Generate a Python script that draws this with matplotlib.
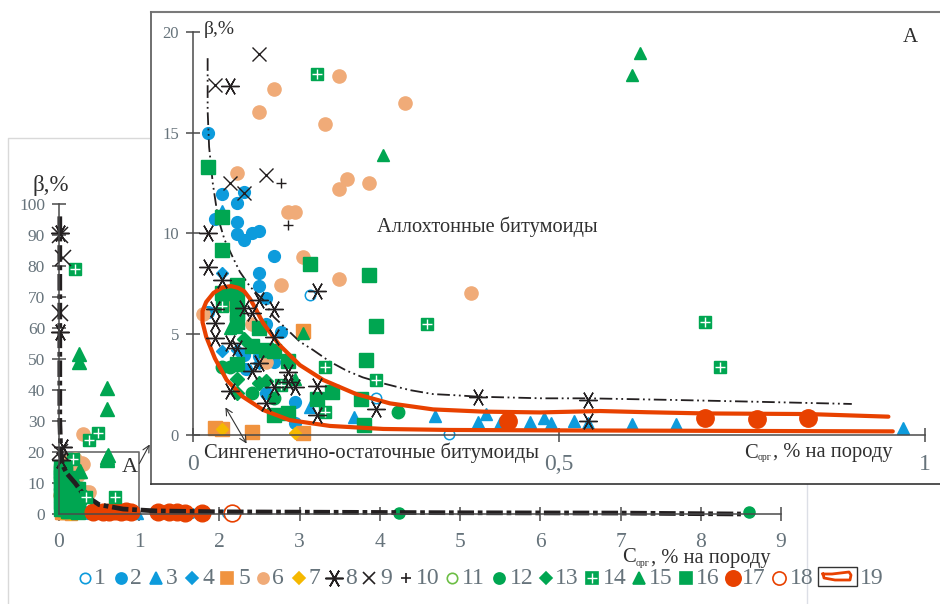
import matplotlib
matplotlib.use("Agg")
import matplotlib.pyplot as plt
from matplotlib.patches import Rectangle

plt.rcParams['font.family'] = ['Liberation Serif', 'DejaVu Serif']

BLUE = '#0d9bdc'
ORANGE = '#f0933f'
TAN = '#f0ab78'
YELLOW = '#f5b800'
GREEN = '#00a651'
RED = '#e84100'
LGREEN = '#6cbe45'
BLACK = '#231f20'
GREY = '#66737b'

# серии (Сорг, бета)
x1 = [0.16, 0.25, 0.35, 2.1, 1.65]
y1 = [6.95, 1.82, 0.03, 0.3, 0.4]
x2 = [0.02, 0.04, 0.07, 0.06, 0.03, 0.06, 0.06, 0.07, 0.08, 0.09, 0.11, 0.09, 0.09, 0.1, 0.02, 0.1, 0.12, 0.07,
      0.11, 0.073, 0.1, 0.14, 0.14, 0.09]
y2 = [15.0, 11.94, 12.04, 11.5, 10.7, 10.57, 9.97, 9.67, 10.0, 10.14, 8.88, 8.02, 7.41, 6.78, 6.1, 5.5, 5.13, 3.97,
      3.64, 3.3, 2.1, 1.65, 0.58, 3.9]
x3 = [0.04, 0.16, 0.22, 0.33, 0.39, 0.4, 0.42, 0.46, 0.479, 0.489, 0.52, 0.54, 0.6, 0.66, 0.97]
y3 = [11.1, 1.4, 0.9, 0.95, 0.66, 1.04, 0.58, 0.63, 0.83, 0.61, 0.71, 0.58, 0.53, 0.53, 0.33]
x4 = [0.04, 0.04, 0.09, 0.06]
y4 = [8.05, 4.18, 3.55, 4.2]
x5 = [0.03, 0.039, 0.08, 0.15, 0.15]
y5 = [0.36, 0.3, 0.17, 0.08, 5.16]
x6 = [0.2, 0.11, 0.289, 0.09, 0.18, 0.06, 0.21, 0.24, 0.2, 0.13, 0.14, 0.15, 0.2, 0.12, 0.38, 0.1, 0.08, 0.05, 0.014]
y6 = [17.8, 17.17, 16.5, 16.05, 15.43, 13.0, 12.7, 12.5, 12.2, 11.08, 11.08, 8.85, 7.76, 7.43, 7.03, 3.64, 5.5, 6.5, 6.0]
x7 = [0.04, 0.14]
y7 = [0.28, 0.12]
x8 = [0.05, 0.02, 0.02, 0.17, 0.04, 0.09, 0.11, 0.03, 0.03, 0.03, 0.05, 0.06, 0.07, 0.08, 0.11, 0.09, 0.08, 0.13,
      0.13, 0.14, 0.11, 0.17, 0.05, 0.1, 0.17, 0.25, 0.39, 0.54, 0.54]
y8 = [17.3, 10.0, 8.35, 7.16, 7.7, 6.7, 6.24, 6.24, 5.57, 4.8, 4.55, 4.3, 6.3, 6.07, 4.88, 3.56, 3.2, 3.14,
      2.65, 2.4, 2.37, 2.43, 2.2, 1.57, 1.0, 1.27, 1.87, 1.74, 0.7]
x9 = [0.09, 0.03, 0.05, 0.1, 0.07]
y9 = [18.9, 17.37, 12.5, 12.9, 12.0]
x10 = [0.12, 0.13]
y10 = [12.52, 10.42]
x12 = [0.28, 0.11, 0.08, 0.04, 0.05]
y12 = [1.16, 1.85, 2.07, 3.36, 3.36]
x13 = [0.07, 0.06, 0.06, 0.09, 0.1]
y13 = [4.75, 2.1, 2.8, 2.6, 2.7]
x14 = [0.17, 0.04, 0.18, 0.25, 0.32, 0.12, 0.18, 0.7, 0.72]
y14 = [17.9, 6.4, 3.39, 2.73, 5.5, 2.5, 1.16, 5.6, 3.39]
x15 = [0.61, 0.6, 0.26, 0.15, 0.05, 0.06, 0.14]
y15 = [18.94, 17.87, 13.9, 5.05, 5.3, 5.38, 2.76]
x16 = [0.02, 0.04, 0.04, 0.16, 0.24, 0.06, 0.04, 0.05, 0.06, 0.06, 0.06, 0.09, 0.25, 0.08, 0.1, 0.11, 0.13, 0.236,
       0.06, 0.17, 0.19, 0.23, 0.11, 0.13, 0.233]
y16 = [13.3, 10.83, 9.2, 8.5, 7.92, 7.44, 7.03, 7.03, 6.7, 6.04, 5.62, 5.29, 5.4, 4.42, 4.2, 4.17, 3.67, 3.72,
       3.52, 1.77, 2.12, 1.77, 1.0, 1.07, 0.5]
x17 = [0.43, 0.77, 0.84, 0.7]
y17 = [0.7, 0.78, 0.83, 0.83]

# точки, которые видны только на общем графике
main_x6 = [0.3, 0.3, 0.34, 0.2]
main_y6 = [25.7, 16.0, 7.0, 14.0]
main_x8 = [0.01, 0.01, 0.05, 0.02]
main_y8 = [90.6, 58.7, 21.6, 17.5]
main_x9 = [0.01, 0.05, 0.01, 0.01]
main_y9 = [90.0, 82.6, 65.0, 20.0]
main_x12 = [4.24, 8.6]
main_y12 = [0.3, 0.7]
main_x14 = [0.2, 0.48, 0.38, 0.17, 0.7, 0.34]
main_y14 = [79.0, 26.0, 24.0, 17.7, 5.6, 5.5]
main_x15 = [0.25, 0.25, 0.6, 0.6, 0.6, 0.6, 0.25]
main_y15 = [51.6, 49.0, 40.6, 34.0, 18.4, 17.5, 14.0]
main_x16 = [0.02, 0.02, 0.02, 0.02, 0.02, 0.02, 0.02, 0.08, 0.08, 0.08, 0.08, 0.08, 0.15, 0.15, 0.15, 0.15, 0.21, 0.21,
            0.02, 0.08, 0.15, 0.21, 0.21]
main_y16 = [14.0, 12.0, 10.0, 8.0, 6.0, 4.0, 1.5, 13.0, 10.0, 7.0, 4.0, 1.5, 9.0, 6.0, 3.5, 1.5, 8.0, 1.5,
            15.0, 15.0, 11.5, 5.0, 3.0]
main_x17 = [1.24, 1.37, 1.47, 1.57, 1.78, 0.55, 0.62, 0.9]
main_y17 = [0.5, 0.5, 0.5, 0.4, 0.4, 0.6, 0.7, 0.6]
main_x18 = [2.16, 1.65]
main_y18 = [0.3, 0.4]

# линии
trend_x = [0.02, 0.02, 0.022, 0.027, 0.034, 0.043, 0.055, 0.064, 0.078, 0.096, 0.11, 0.127, 0.146, 0.164, 0.187,
           0.21, 0.232, 0.26, 0.296, 0.328, 0.36, 0.39, 0.478, 0.54, 0.656, 0.77, 0.9]
trend_y = [18.7, 16.1, 14.3, 12.5, 10.8, 9.7, 8.77, 8.1, 7.36, 6.7, 5.87, 5.29, 4.63, 4.22, 3.64,
           3.19, 2.86, 2.56, 2.23, 2.03, 1.97, 1.9, 1.82, 1.82, 1.74, 1.65, 1.54]
main_trend_x = [0.01, 0.01, 0.01, 0.02, 0.04, 0.1, 0.2, 0.3, 0.5, 0.8, 1.2, 2.0, 3.0, 5.0, 7.0, 8.5]
main_trend_y = [96, 50, 30, 22, 16, 13, 10, 6.5, 3, 1.6, 1.0, 0.7, 0.6, 0.4, 0.3, 0.0]
area_x = [0.95, 0.84, 0.7, 0.62, 0.556, 0.474, 0.396, 0.328, 0.269, 0.223, 0.178, 0.146, 0.118, 0.096, 0.084, 0.078, 0.07,
          0.062, 0.052, 0.04, 0.028, 0.018, 0.013, 0.013, 0.018, 0.03, 0.046, 0.068, 0.096, 0.132, 0.187, 0.26, 0.35, 0.487, 0.956]
area_y = [0.91, 1.04, 1.07, 1.13, 1.19, 1.12, 1.16, 1.27, 1.57, 2.03, 2.73, 3.47, 4.47, 5.54, 6.37, 6.75, 7.13,
          7.3, 7.39, 7.32, 7.05, 6.6, 6.15, 5.6, 4.88, 3.8, 2.73, 1.9, 1.24, 0.74, 0.45, 0.3, 0.25, 0.23, 0.18]

main_xticks = [0, 1, 2, 3, 4, 5, 6, 7, 8, 9]
main_yticks = [0, 10, 20, 30, 40, 50, 60, 70, 80, 90, 100]
inset_xticks = [0, 0.5, 1]
inset_xlabels = ['0', '0,5', '1']
inset_yticks = [0, 5, 10, 15, 20]
legend_labels = ['1', '2', '3', '4', '5', '6', '7', '8', '9', '10', '11', '12', '13', '14', '15', '16', '17', '18']
legend_marker_px = [85, 121, 156, 192, 227, 263, 299, 334, 369, 406, 452, 499, 546, 592, 639, 686, 733, 779]
legend_label_px = [100, 136, 172, 208, 244, 278, 314, 351, 386, 428, 473, 522, 567, 615, 661, 708, 754, 802]

STAR = (6, 2, 90)


def pts(ax, x, y, marker, color, ms, **kw):
    ax.plot(x, y, ls='none', marker=marker, color=color, ms=ms, clip_on=False, **kw)


def crossed(ax, x, y, ms):
    ax.plot(x, y, ls='none', marker='s', color=GREEN, ms=ms, clip_on=False)
    ax.plot(x, y, ls='none', marker='+', color='white', ms=ms * 0.8, mew=1.0, clip_on=False)


def style(ax, ytick_size, xtick_size, ypad):
    for s in ['top', 'right']:
        ax.spines[s].set_visible(False)
    for s in ['left', 'bottom']:
        ax.spines[s].set_color('#4a4a4a')
        ax.spines[s].set_linewidth(1.1)
    ax.tick_params(axis='y', direction='inout', length=10, width=1.1, color='#4a4a4a', labelcolor=GREY,
                   labelsize=ytick_size, pad=ypad)
    ax.tick_params(axis='x', direction='inout', length=10, width=1.1, color='#4a4a4a', labelcolor=GREY,
                   labelsize=xtick_size, pad=9)


W, H = 940, 604
fig = plt.figure(figsize=(W / 100, H / 100), dpi=100)

# фон с внешней рамкой
bg = fig.add_axes([0, 0, 1, 1], zorder=0)
bg.set_xlim(0, W)
bg.set_ylim(H, 0)
bg.axis('off')
bg.plot([8, 8, 160], [H, 138, 138], color='#d9d9d9', lw=1.0)
bg.plot([807, 807], [484, H], color='#dcdfe6', lw=1.0)

# общий график
ax = fig.add_axes([59 / W, 1 - 514 / H, (781 - 59) / W, (514 - 204) / H], zorder=1)
ax.patch.set_alpha(0)
ax.set_xlim(0, 9)
ax.set_ylim(0, 100)
ax.set_xticks(main_xticks)
ax.set_yticks(main_yticks)
style(ax, 12.5, 15.5, 5)
ax.plot([0, 1, 1], [20, 20, 0], color='#6a6a6a', lw=1.2)
pts(ax, x1 + main_x18, y1 + main_y18, 'o', 'none', 7, mec=BLUE, mew=1.0)
pts(ax, x2, y2, 'o', BLUE, 8)
pts(ax, x3, y3, '^', BLUE, 8)
pts(ax, x5, y5, 's', ORANGE, 8)
pts(ax, x6 + main_x6, y6 + main_y6, 'o', TAN, 9.5)
pts(ax, x7, y7, 'D', YELLOW, 6)
pts(ax, main_x12, main_y12, 'o', GREEN, 8)
pts(ax, x15 + main_x15, y15 + main_y15, '^', GREEN, 9.5)
pts(ax, x16 + main_x16, y16 + main_y16, 's', GREEN, 9.5)
pts(ax, x17 + main_x17, y17 + main_y17, 'o', RED, 12)
pts(ax, main_x18[:1], main_y18[:1], 'o', 'white', 12, mec=RED, mew=1.2)
ax.plot(main_trend_x, main_trend_y, color=BLACK, lw=3.4, dashes=(3.5, 0.8, 1, 0.8), clip_on=False)
crossed(ax, main_x14, main_y14, 9)
pts(ax, main_x8, main_y8, STAR, BLACK, 13, mew=1.1)
pts(ax, main_x9, main_y9, 'x', BLACK, 11, mew=1.1)

# рамка врезки
over = fig.add_axes([0, 0, 1, 1], zorder=2)
over.patch.set_alpha(0)
over.set_xlim(0, W)
over.set_ylim(H, 0)
over.axis('off')
over.add_patch(Rectangle((151, 12), 800, 472, fc='white', ec='none', clip_on=True))
over.plot([151, 940], [12, 12], color='#7a7a7a', lw=1.5)
over.plot([151, 151], [12, 484], color='#6f6f6f', lw=1.4)
over.plot([151, 940], [484, 484], color='#333333', lw=1.2)

# врезка А
ins = fig.add_axes([193 / W, 1 - 435 / H, (925 - 193) / W, (435 - 32) / H], zorder=3)
ins.patch.set_alpha(0)
ins.set_xlim(0, 1)
ins.set_ylim(0, 20)
ins.set_xticks(inset_xticks)
ins.set_xticklabels(inset_xlabels)
ins.set_yticks(inset_yticks)
style(ins, 12, 17, 5)
pts(ins, x1[:3], y1[:3], 'o', 'none', 7.5, mec=BLUE, mew=1.1)
pts(ins, x2, y2, 'o', BLUE, 8.5)
pts(ins, x3, y3, '^', BLUE, 8.5)
pts(ins, x4, y4, 'D', BLUE, 6.5)
pts(ins, x5, y5, 's', ORANGE, 9.5)
pts(ins, x6, y6, 'o', TAN, 9.5)
pts(ins, x7, y7, 'D', YELLOW, 6.5)
ins.plot(trend_x, trend_y, color=BLACK, lw=1.3, dashes=(7, 2, 1, 2, 1, 2))
pts(ins, x10, y10, '+', BLACK, 7, mew=1.0)
pts(ins, x12, y12, 'o', GREEN, 9)
pts(ins, x13, y13, 'D', GREEN, 7.5)
pts(ins, x15, y15, '^', GREEN, 9)
pts(ins, x16, y16, 's', GREEN, 9.5)
crossed(ins, x14, y14, 8.5)
pts(ins, x17, y17, 'o', RED, 12.5)
ins.plot(area_x, area_y, color=RED, lw=3, solid_capstyle='round', solid_joinstyle='round', clip_on=False)
pts(ins, x8, y8, STAR, BLACK, 13, mew=1.0)
pts(ins, x9, y9, 'x', BLACK, 10.5, mew=1.0)

# подписи и легенда
top = fig.add_axes([0, 0, 1, 1], zorder=4)
top.patch.set_alpha(0)
top.set_xlim(0, W)
top.set_ylim(H, 0)
top.axis('off')
tc = '#2f2f2f'
top.text(204, 30, 'β,%', fontsize=14, color=tc, va='center')
top.text(33, 186, 'β,%', fontsize=16.5, color=tc, va='center')
top.text(903, 37, 'А', fontsize=15, color=tc, va='center')
top.text(122, 467, 'А', fontsize=16, color=tc, va='center')
top.text(377, 227, 'Аллохтонные битумоиды', fontsize=14.7, color=tc, va='center')
top.text(204, 453, 'Сингенетично-остаточные битумоиды', fontsize=14.8, color=tc, va='center')
for x0, y0 in [(744, 453), (622, 558)]:
    top.text(x0, y0, 'C', fontsize=14.8, color=tc, va='center')
    top.text(x0 + 14, y0 + 5, 'орг', fontsize=7, color=tc, va='center')
    top.text(x0 + 29, y0, ', % на породу', fontsize=14.8, color=tc, va='center')
top.annotate('', xy=(151, 442), xytext=(138, 466),
             arrowprops=dict(arrowstyle='->', color='#333333', lw=0.8, mutation_scale=12))
top.annotate('', xy=(224, 405), xytext=(248, 446),
             arrowprops=dict(arrowstyle='<->', color='#333333', lw=0.8, mutation_scale=12))

ly = 578
markers = [('o', 'none', BLUE), ('o', BLUE, BLUE), ('^', BLUE, BLUE), ('D', BLUE, BLUE), ('s', ORANGE, ORANGE),
           ('o', TAN, TAN), ('D', YELLOW, YELLOW), (STAR, BLACK, BLACK), ('x', BLACK, BLACK), ('+', BLACK, BLACK),
           ('o', 'none', LGREEN), ('o', GREEN, GREEN), ('D', GREEN, GREEN), ('s', GREEN, GREEN), ('^', GREEN, GREEN),
           ('s', GREEN, GREEN), ('o', RED, RED), ('o', 'none', RED)]
sizes = [7.5, 8, 9, 6.5, 8, 8, 6.5, 13, 9, 7, 7.5, 8, 6.5, 8, 9, 8, 11, 9.5]
for i in range(18):
    m, fc, ec = markers[i]
    top.plot([legend_marker_px[i]], [ly], ls='none', marker=m, mfc=fc, mec=ec, ms=sizes[i], mew=1.2, clip_on=False)
    if i == 13:
        top.plot([legend_marker_px[i]], [ly], ls='none', marker='+', color='white', ms=7, mew=1.0)
    top.text(legend_label_px[i], ly, legend_labels[i], fontsize=17, color=GREY, ha='center', va='center')
top.add_patch(Rectangle((818, 567), 39, 19, fc='white', ec='#333333', lw=1.0))
top.plot([823, 832, 849, 851, 850, 835, 824, 823], [574, 574, 572, 575, 580, 580, 578, 574], color=RED, lw=2.0)
top.text(872, ly, '19', fontsize=17, color=GREY, ha='center', va='center')

fig.savefig('out.png', dpi=100)
